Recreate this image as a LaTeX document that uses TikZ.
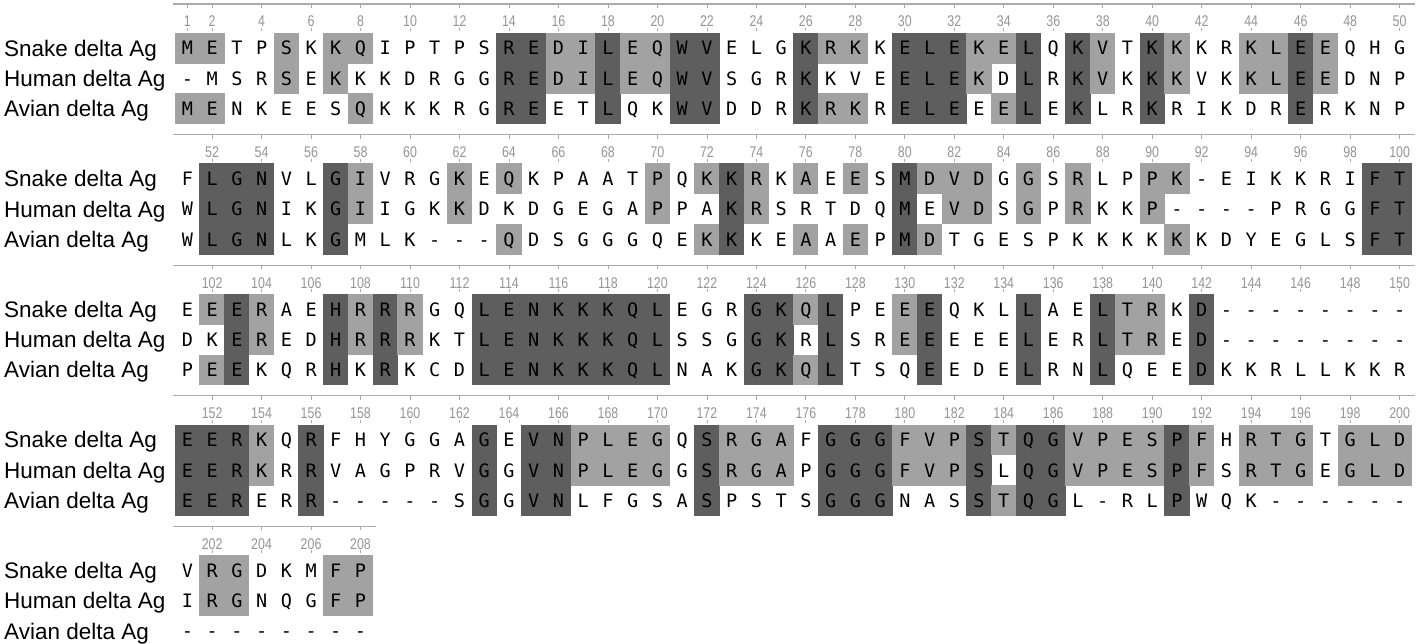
\documentclass[tikz,border=0pt]{standalone}
\usepackage{fontspec}
\setmainfont{Liberation Sans}
\newfontfamily\seqfont{DejaVu Sans Mono}
\newfontfamily\numfont[FakeStretch=0.8]{Liberation Sans}
\definecolor{darkc}{HTML}{5E5E5E}
\definecolor{lightc}{HTML}{A2A2A2}
\definecolor{tickc}{HTML}{ABABAB}
\definecolor{numc}{HTML}{959595}
\tikzset{
  seqletter/.style={font=\seqfont\fontsize{18.5}{18.5}\selectfont, inner sep=0pt, text height=13.5pt, text depth=0pt, anchor=center},
  rowlabel/.style={font=\fontsize{22.5}{22.5}\selectfont, inner sep=0pt, text height=16pt, text depth=0pt, anchor=west},
  ticknum/.style={font=\numfont\fontsize{15.5}{15.5}\selectfont, text=numc, inner sep=0pt, text height=11pt, text depth=0pt, anchor=center},
  rulerline/.style={draw=tickc, line width=1.3pt},
  tickmark/.style={draw=tickc, line width=0.8pt},
}
\def\gapc{-}
\newcommand\cellbox[3]{%
  \ifnum#1=2 \fill[darkc] (#2-0.25,#3-0.25) rectangle (#2+24.99,#3+30.55);\fi
  \ifnum#1=1 \fill[lightc] (#2-0.25,#3-0.25) rectangle (#2+24.99,#3+30.55);\fi
}
% #1 block index, #2 first column number, #3 number of columns, #4 triples snake/human/avian
\newcommand\alnblock[4]{%
  \pgfmathsetmacro\Tb{33+#1*130.6}
  \pgfmathsetmacro\Ly{\Tb-29}
  \draw[rulerline] (173,\Ly) -- ({175+#3*24.74+3},\Ly);
  \node[rowlabel] (lab#1s) at (4,\Tb+15.15) {Snake delta Ag};
  \node[rowlabel] (lab#1h) at (4,\Tb+45.45) {Human delta Ag};
  \node[rowlabel] (lab#1a) at (4,\Tb+75.75) {Avian delta Ag};
  \foreach \rS/\rH/\rA [count=\k from 0] in {#4} {
    \pgfmathsetmacro\xl{175+\k*24.74}
    \edef\xs{\rS}\edef\xh{\rH}\edef\xa{\rA}
    \def\fS{0}\def\fH{0}\def\fA{0}
    \ifx\xs\gapc\else
      \ifx\xs\xh \def\fS{1}\def\fH{1}\fi
      \ifx\xs\xa \def\fS{1}\def\fA{1}\fi
      \ifx\xs\xh\ifx\xs\xa \def\fS{2}\def\fH{2}\def\fA{2}\fi\fi
    \fi
    \cellbox{\fS}{\xl}{\Tb}
    \cellbox{\fH}{\xl}{\Tb+30.3}
    \cellbox{\fA}{\xl}{\Tb+60.6}
    \node[seqletter] (b#1s\k) at (\xl+12.37,\Tb+15.15) {\rS};
    \node[seqletter] (b#1h\k) at (\xl+12.37,\Tb+45.45) {\rH};
    \node[seqletter] (b#1a\k) at (\xl+12.37,\Tb+75.75) {\rA};
    \pgfmathtruncatemacro\n{#2+\k}
    \pgfmathtruncatemacro\md{mod(\n,2)}
    \def\dotick{0}
    \ifnum\md=0 \def\dotick{1}\fi
    \ifnum\n=1 \def\dotick{1}\fi
    \ifnum\dotick=1
      \draw[tickmark] (\xl+12.37,\Ly) -- (\xl+12.37,\Ly+4);
      \node[ticknum] (b#1t\k) at (\xl+12.37,\Tb-11.5) {\n};
      \draw[tickmark] (\xl+12.37,\Tb-5) -- (\xl+12.37,\Tb-2);
    \fi
  }
}
\begin{document}
\begin{tikzpicture}[x=1pt,y=-1pt]
\useasboundingbox[fill=white] (0,0) rectangle (1428,644);
\alnblock{0}{1}{50}{M/-/M, E/M/E, T/S/N, P/R/K, S/S/E, K/E/E, K/K/S, Q/K/Q, I/K/K, P/D/K,
 T/R/K, P/G/R, S/G/G, R/R/R, E/E/E, D/D/E, I/I/T, L/L/L, E/E/Q, Q/Q/K,
 W/W/W, V/V/V, E/S/D, L/G/D, G/R/R, K/K/K, R/K/R, K/V/K, K/E/R, E/E/E,
 L/L/L, E/E/E, K/K/E, E/D/E, L/L/L, Q/R/E, K/K/K, V/V/L, T/K/R, K/K/K,
 K/K/R, K/V/I, R/K/K, K/K/D, L/L/R, E/E/E, E/E/R, Q/D/K, H/N/N, G/P/P}
\alnblock{1}{51}{50}{F/W/W, L/L/L, G/G/G, N/N/N, V/I/L, L/K/K, G/G/G, I/I/M, V/I/L, R/G/K,
 G/K/-, K/K/-, E/D/-, Q/K/Q, K/D/D, P/G/S, A/E/G, A/G/G, T/A/G, P/P/Q,
 Q/P/E, K/A/K, K/K/K, R/R/K, K/S/E, A/R/A, E/T/A, E/D/E, S/Q/P, M/M/M,
 D/E/D, V/V/T, D/D/G, G/S/E, G/G/S, S/P/P, R/R/K, L/K/K, P/K/K, P/P/K,
 K/-/K, -/-/K, E/-/D, I/-/Y, K/P/E, K/R/G, R/G/L, I/G/S, F/F/F, T/T/T}
\alnblock{2}{101}{50}{E/D/P, E/K/E, E/E/E, R/R/K, A/E/Q, E/D/R, H/H/H, R/R/K, R/R/R, R/R/K,
 G/K/C, Q/T/D, L/L/L, E/E/E, N/N/N, K/K/K, K/K/K, K/K/K, Q/Q/Q, L/L/L,
 E/S/N, G/S/A, R/G/K, G/G/G, K/K/K, Q/R/Q, L/L/L, P/S/T, E/R/S, E/E/Q,
 E/E/E, Q/E/E, K/E/D, L/E/E, L/L/L, A/E/R, E/R/N, L/L/L, T/T/Q, R/R/E,
 K/E/E, D/D/D, -/-/K, -/-/K, -/-/R, -/-/L, -/-/L, -/-/K, -/-/K, -/-/R}
\alnblock{3}{151}{50}{E/E/E, E/E/E, R/R/R, K/K/E, Q/R/R, R/R/R, F/V/-, H/A/-, Y/G/-, G/P/-,
 G/R/-, A/V/S, G/G/G, E/G/G, V/V/V, N/N/N, P/P/L, L/L/F, E/E/G, G/G/S,
 Q/G/A, S/S/S, R/R/P, G/G/S, A/A/T, F/P/S, G/G/G, G/G/G, G/G/G, F/F/N,
 V/V/A, P/P/S, S/S/S, T/L/T, Q/Q/Q, G/G/G, V/V/L, P/P/-, E/E/R, S/S/L,
 P/P/P, F/F/W, H/S/Q, R/R/K, T/T/-, G/G/-, T/E/-, G/G/-, L/L/-, D/D/-}
\alnblock{4}{201}{8}{V/I/-, R/R/-, G/G/-, D/N/-, K/Q/-, M/G/-, F/F/-, P/P/-}
\end{tikzpicture}
\end{document}
